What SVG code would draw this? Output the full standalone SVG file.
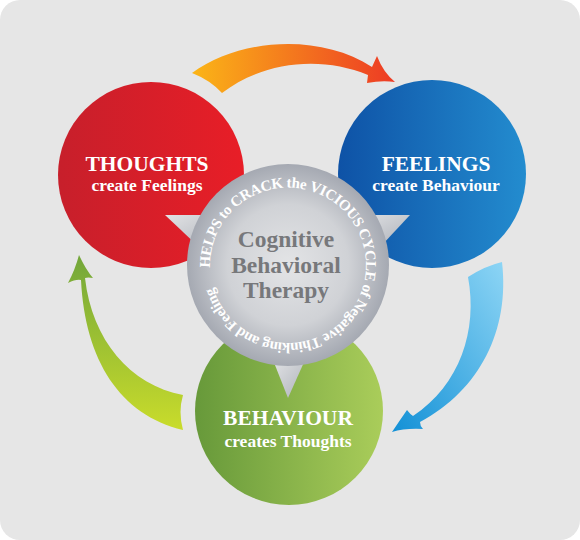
<svg xmlns="http://www.w3.org/2000/svg" xmlns:xlink="http://www.w3.org/1999/xlink" width="580" height="540" viewBox="0 0 580 540">
<defs>
<style>
.title{font-family:"Liberation Serif","Times New Roman",serif;font-weight:bold;fill:#ffffff;text-anchor:middle}
.t1{font-size:21.5px}
.t2{font-size:17.5px}
.cbt{font-family:"Liberation Serif","Times New Roman",serif;font-weight:bold;fill:#77787b;font-size:23.5px;text-anchor:middle}
.ring{font-family:"Liberation Serif","Times New Roman",serif;font-weight:bold;fill:#ffffff;font-size:15px}
</style>
<linearGradient id="gRed" x1="0" y1="0" x2="1" y2="0">
<stop offset="0" stop-color="#c71f2b"/><stop offset="1" stop-color="#e81e27"/>
</linearGradient>
<linearGradient id="gBlue" x1="0" y1="0" x2="1" y2="0">
<stop offset="0" stop-color="#0e52a6"/><stop offset="1" stop-color="#238ccf"/>
</linearGradient>
<linearGradient id="gGreen" x1="0" y1="0" x2="1" y2="0">
<stop offset="0" stop-color="#67993a"/><stop offset="1" stop-color="#aacd5a"/>
</linearGradient>
<radialGradient id="gGray" cx="0.5" cy="0.5" r="0.5">
<stop offset="0" stop-color="#e3e4e6"/><stop offset="0.6" stop-color="#d0d2d6"/><stop offset="1" stop-color="#a5a9b2"/>
</radialGradient>
<linearGradient id="gTri" x1="0" y1="0" x2="1" y2="1">
<stop offset="0" stop-color="#e2e3e5"/><stop offset="1" stop-color="#aeb2ba"/>
</linearGradient>
<linearGradient id="gOrange" x1="0" y1="0" x2="1" y2="0">
<stop offset="0" stop-color="#fbb517"/><stop offset="1" stop-color="#ed3a24"/>
</linearGradient>
<linearGradient id="gSky" x1="0" y1="1" x2="1" y2="0">
<stop offset="0" stop-color="#1290d6"/><stop offset="1" stop-color="#8dd5f5"/>
</linearGradient>
<linearGradient id="gLime" x1="0" y1="0" x2="0" y2="1">
<stop offset="0" stop-color="#72a63a"/><stop offset="1" stop-color="#c9dc2b"/>
</linearGradient>
<path id="ringPath" d="M210.05,267.72 A78,78 0 0 1 365.95,262.28 A78,78 0 0 1 211.7,281.2"/>
</defs>

<rect x="0" y="0" width="580" height="540" rx="20" ry="20" fill="#e6e6e6"/>

<g id="connectors">
<path id="arrow-thoughts-feelings" fill="url(#gOrange)" d="M192,73 C240,38 320,33 372,67 L377,56 Q383,72 395,82 Q382,80 367,83 L368,75 C320,55 262,62 222,93 Q210,80 192,73 Z"/>
<path id="arrow-feelings-behaviour" fill="url(#gSky)" d="M468,277 Q485,266 502,262 C510,330 480,390 420,422 Q420,426 423,429 Q405,428 392,432 Q400,420 407,410 Q410,414 413,416 C460,385 478,330 468,277 Z"/>
<path id="arrow-behaviour-thoughts" fill="url(#gLime)" d="M79,255 Q86,270 93,278 Q88,277 85,278 C92,340 130,385 183,395 Q178,412 183,430 C120,415 85,360 81,280 Q76,279 68,283 Q75,270 79,255 Z"/>
</g>

<g id="thoughts">
<circle cx="151" cy="175" r="93" fill="url(#gRed)"/>
<text class="title t1" x="147" y="171">THOUGHTS</text>
<text class="title t2" x="147" y="191">create Feelings</text>
</g>

<g id="feelings">
<circle cx="432" cy="174" r="94" fill="url(#gBlue)"/>
<text class="title t1" x="436" y="171">FEELINGS</text>
<text class="title t2" x="436" y="191">create Behaviour</text>
</g>

<g id="behaviour">
<circle cx="289" cy="411" r="94" fill="url(#gGreen)"/>
<text class="title t1" x="288" y="425">BEHAVIOUR</text>
<text class="title t2" x="288" y="447">creates Thoughts</text>
</g>

<g id="cbt">
<polygon points="165,215 225,215 200,248" fill="url(#gTri)"/>
<polygon points="410,215 355,215 382,245" fill="url(#gTri)"/>
<polygon points="273,360 305,360 288,398" fill="url(#gTri)"/>
<circle cx="288" cy="265" r="101" fill="url(#gGray)"/>
<text class="cbt" x="286" y="247">Cognitive</text>
<text class="cbt" x="286" y="273">Behavioral</text>
<text class="cbt" x="286" y="298">Therapy</text>
<text class="ring"><textPath xlink:href="#ringPath" textLength="468" lengthAdjust="spacing">HELPS to CRACK the VICIOUS CYCLE of Negative Thinking and Feeling</textPath></text>
</g>
</svg>
